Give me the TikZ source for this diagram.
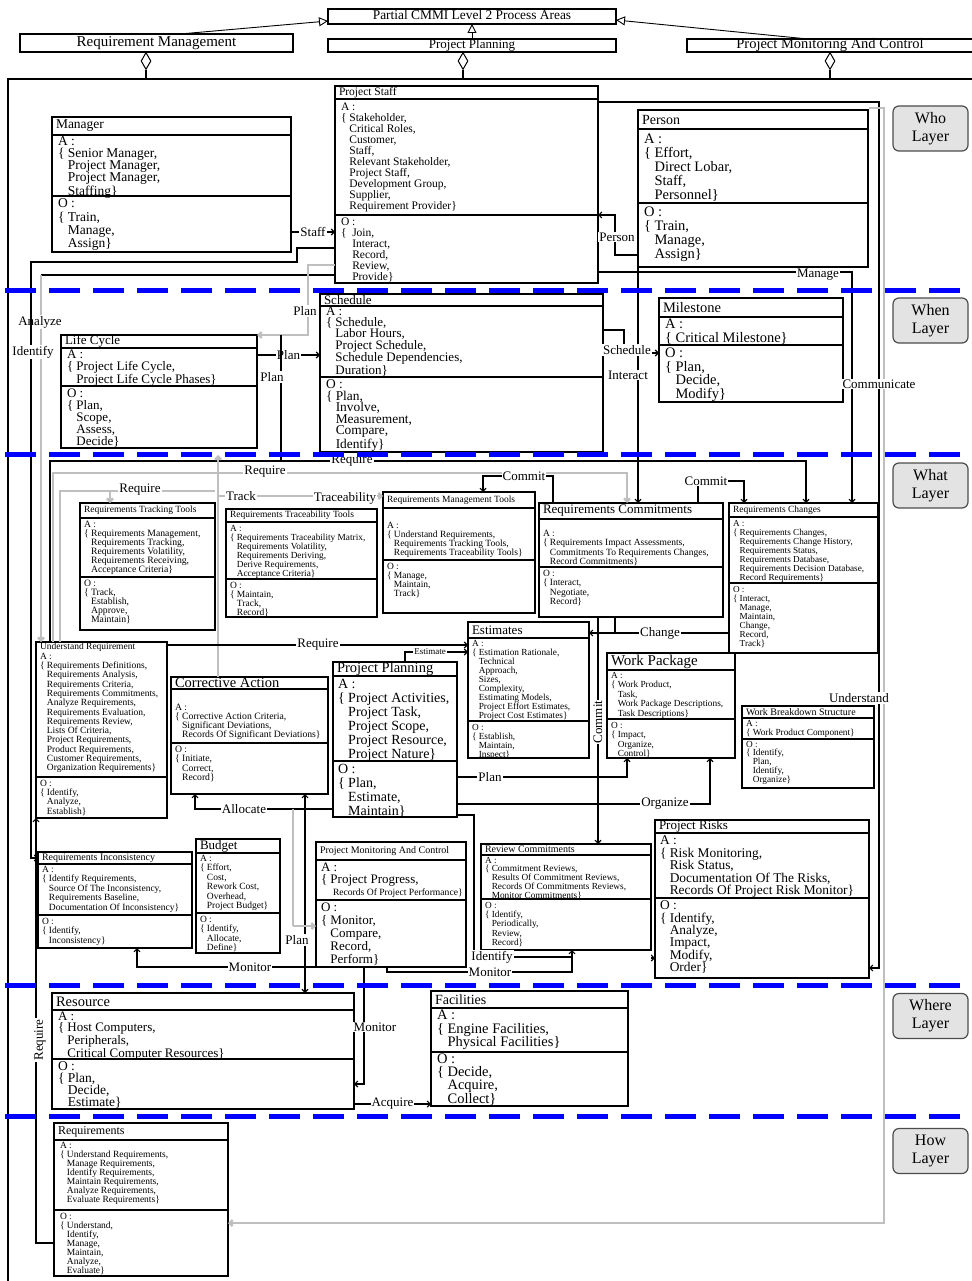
\documentclass[tikz,border=0pt]{standalone}
\usepackage{fontspec}
\setmainfont{Liberation Serif}
\usetikzlibrary{arrows.meta,shapes.geometric}
\newcommand\fs[2]{\fontsize{#1}{#2}\selectfont}
\newcommand\ind{\hphantom{\{\ }}
% class box: name, x1, y1, x2, y2, separator ys, title centre y, title size, title
\newcommand\cls[9]{%
  \node[clsbox, minimum width={#4-#2}, minimum height={#5-#3}] (#1) at (#2,#3) {};
  \foreach \sy in {#6} {\draw[sepline] (#2,\sy) -- (#4,\sy);}
  \node[ttl, font=\fs{#8}{#8}] (#1-n) at ({#2+4},#7) {#9};
}
% compartment text: name, x, y, size, skip, text
\newcommand\ctx[6]{\node[txt, font=\fs{#4}{#5}] (#1) at (#2,#3) {#6};}
\begin{document}
\begin{tikzpicture}[x=1pt,y=-1pt,
  clsbox/.style={draw, line width=1.2pt, inner sep=0pt, outer sep=0pt, anchor=north west},
  sepline/.style={line width=1.2pt},
  ttl/.style={anchor=west, inner sep=0pt, outer sep=0pt},
  txt/.style={anchor=north west, inner sep=0pt, outer sep=0pt, align=left},
  hdr/.style={draw, line width=1.2pt, inner sep=0pt, outer sep=0pt, text height=8.5pt, text depth=2pt},
  agg/.style={diamond, draw, fill=white, line width=1pt, inner sep=0pt, minimum width=10pt, minimum height=17pt, anchor=north},
  gen/.style={line width=0.9pt, -{Triangle[open, length=9pt, width=9pt]}},
  ln/.style={line width=1.1pt, -{Straight Barb[length=3pt,width=6pt]}},
  pl/.style={line width=1.1pt},
  gln/.style={line width=2.4pt, gray!50, -{Straight Barb[length=3pt,width=6pt]}},
  gpl/.style={line width=2.4pt, gray!50},
  lab/.style={fill=white, inner sep=1pt, font=\fs{13}{13}},
  layer/.style={draw=black!70, fill=gray!22, line width=1.2pt, rounded corners=6pt, minimum width=75pt, minimum height=45pt, align=center, font=\fs{16}{18}, inner sep=0pt},
  layerline/.style={blue, line width=5pt, dash pattern=on 31pt off 13pt}
]
\fill[white] (0,0) rectangle (971,1281);
\useasboundingbox (0,0) rectangle (971,1281);

% ---------- process area headers ----------
\node[hdr, minimum width=288pt, minimum height=15pt, font=\fs{13.4}{13}] (partial) at (472,16.5) {Partial CMMI Level 2 Process Areas};
\node[hdr, minimum width=273pt, minimum height=18pt, font=\fs{15}{15}, text height=10pt] (rmh) at (156.5,43) {Requirement Management};
\node[hdr, minimum width=288pt, minimum height=13pt, font=\fs{13}{13}] (pph) at (472,45.5) {Project Planning};
\node[hdr, minimum width=286pt, minimum height=13pt, font=\fs{14.5}{14.5}, text height=9pt] (pmch) at (830,45.5) {Project Monitoring And Control};
\draw[gen] (180,34) -- (partial.west |- 0,21);
\draw[gen] (pph.north) -- (partial.south);
\draw[gen] (808,39) -- (partial.east |- 0,20);
\node[agg] (d1) at (146,52) {};
\node[agg] (d2) at (463,52) {};
\node[agg] (d3) at (830,52) {};
\draw[pl] (d1.south) -- (146,79);
\draw[pl] (d2.south) -- (463,79);
\draw[pl] (d3.south) -- (830,79);
\draw[pl] (8,1281) -- (8,79) -- (975,79);

% ---------- who ----------
\cls{mgr}{52}{117}{291}{252}{135,196}{126}{13.5}{Manager}
\ctx{mgr-a}{58}{137}{13.5}{12}{A :\\\{ Senior Manager,\\\ind Project Manager,\\\ind Project Manager,\\\ind Staffing\}}
\ctx{mgr-o}{58}{199}{13.5}{13.3}{O :\\\{ Train,\\\ind Manage,\\\ind Assign\}}

\cls{ps}{335}{86}{598}{283}{99,215}{92.5}{11.5}{Project Staff}
\ctx{ps-a}{341}{103}{11.5}{11}{A :\\\{ Stakeholder,\\\ind Critical Roles,\\\ind Customer,\\\ind Staff,\\\ind Relevant Stakeholder,\\\ind Project Staff,\\\ind Development Group,\\\ind Supplier,\\\ind Requirement Provider\}}
\ctx{ps-o}{341}{218}{11.5}{11}{O :\\\{\ \ Join,\\\ind\ Interact,\\\ind\ Record,\\\ind\ Review,\\\ind\ Provide\}}

\cls{person}{638}{110}{868}{267}{129,203}{120}{14}{Person}
\ctx{person-a}{644}{134}{14.5}{14}{A :\\\{ Effort,\\\ind Direct Lobar,\\\ind Staff,\\\ind Personnel\}}
\ctx{person-o}{644}{207}{14.5}{14}{O :\\\{ Train,\\\ind Manage,\\\ind Assign\}}

% ---------- when ----------
\cls{lc}{61}{335}{257}{448}{348,386}{341.5}{13}{Life Cycle}
\ctx{lc-a}{67}{350}{13}{12.3}{A :\\\{ Project Life Cycle,\\\ind Project Life Cycle Phases\}}
\ctx{lc-o}{67}{389}{13}{12}{O :\\\{ Plan,\\\ind Scope,\\\ind Assess,\\\ind Decide\}}

\cls{sch}{320}{294}{603}{452}{306,377}{300}{13}{Schedule}
\ctx{sch-a}{326}{307}{13}{11.2}{A :\\\{ Schedule,\\\ind Labor Hours,\\\ind Project Schedule,\\\ind Schedule Dependencies,\\\ind Duration\}}
\ctx{sch-o}{326}{380}{13.4}{11.5}{O :\\\{ Plan,\\\ind Involve,\\\ind Measurement,\\\ind Compare,\\\ind Identify\}}

\cls{ms}{659}{298}{843}{402}{317,345}{307.5}{14.5}{Milestone}
\ctx{ms-a}{665}{319}{14.5}{13.5}{A :\\\{ Critical Milestone\}}
\ctx{ms-o}{665}{348}{14.5}{13.5}{O :\\\{ Plan,\\\ind Decide,\\\ind Modify\}}

% ---------- what ----------
\cls{rtt}{80}{503}{215}{630}{518,577}{510.5}{9.5}{Requirements Tracking Tools}
\ctx{rtt-a}{84}{521}{9.7}{9}{A :\\\{ Requirements Management,\\\ind Requirements Tracking,\\\ind Requirements Volatility,\\\ind Requirements Receiving,\\\ind Acceptance Criteria\}}
\ctx{rtt-o}{84}{580}{9.7}{9}{O :\\\{ Track,\\\ind Establish,\\\ind Approve,\\\ind Maintain\}}

\cls{rtrt}{226}{509}{377}{617}{522,579}{515.5}{9.5}{Requirements Traceability Tools}
\ctx{rtrt-a}{230}{525}{9.3}{9}{A :\\\{ Requirements Traceability Matrix,\\\ind Requirements Volatility,\\\ind Requirements Deriving,\\\ind Derive Requirements,\\\ind Acceptance Criteria\}}
\ctx{rtrt-o}{230}{582}{9.5}{9}{O :\\\{ Maintain,\\\ind Track,\\\ind Record\}}

\cls{rmt}{383}{492}{535}{613}{508,560}{500}{9.5}{Requirements Management Tools}
\ctx{rmt-a}{387}{522}{9.5}{9}{A :\\\{ Understand Requirements,\\\ind Requirements Tracking Tools,\\\ind Requirements Traceability Tools\}}
\ctx{rmt-o}{387}{563}{9.5}{9}{O :\\\{ Manage,\\\ind Maintain,\\\ind Track\}}

\cls{rc}{539}{503}{723}{617}{519,567}{511}{13}{Requirements Commitments}
\ctx{rc-a}{543}{530}{9.5}{9.5}{A :\\\{ Requirements Impact Assessments,\\\ind Commitments To Requirements Changes,\\\ind Record Commitments\}}
\ctx{rc-o}{543}{570}{9.5}{9.5}{O :\\\{ Interact,\\\ind Negotiate,\\\ind Record\}}

\cls{rchg}{729}{503}{878}{653}{517,583}{510}{9.5}{Requirements Changes}
\ctx{rchg-a}{733}{520}{9.2}{9}{A :\\\{ Requirements Changes,\\\ind Requirements Change History,\\\ind Requirements Status,\\\ind Requirements Database,\\\ind Requirements Decision Database,\\\ind Record Requirements\}}
\ctx{rchg-o}{733}{586}{9.2}{9}{O :\\\{ Interact,\\\ind Manage,\\\ind Maintain,\\\ind Change,\\\ind Record,\\\ind Track\}}

\cls{ur}{36}{642}{167}{818}{777}{647}{9.5}{Understand Requirement}
\ctx{ur-a}{40}{653}{9.5}{9.3}{A :\\\{ Requirements Definitions,\\\ind Requirements Analysis,\\\ind Requirements Criteria,\\\ind Requirements Commitments,\\\ind Analyze Requirements,\\\ind Requirements Evaluation,\\\ind Requirements Review,\\\ind Lists Of Criteria,\\\ind Project Requirements,\\\ind Product Requirements,\\\ind Customer Requirements,\\\ind Organization Requirements\}}
\ctx{ur-o}{40}{780}{9.5}{9.3}{O :\\\{ Identify,\\\ind Analyze,\\\ind Establish\}}

\cls{ca}{171}{677}{328}{794}{689,743}{683}{14.5}{Corrective Action}
\ctx{ca-a}{175}{704}{9.7}{9}{A :\\\{ Corrective Action Criteria,\\\ind Significant Deviations,\\\ind Records Of Significant Deviations\}}
\ctx{ca-o}{175}{746}{9.7}{9.3}{O :\\\{ Initiate,\\\ind Correct,\\\ind Record\}}

\cls{pp}{333}{662}{457}{817}{676,761}{669}{14.5}{Project Planning}
\ctx{pp-a}{338}{679}{14}{14}{A :\\\{ Project Activities,\\\ind Project Task,\\\ind Project Scope,\\\ind Project Resource,\\\ind Project Nature\}}
\ctx{pp-o}{338}{764}{14}{14}{O :\\\{ Plan,\\\ind Estimate,\\\ind Maintain\}}

\cls{est}{468}{622}{589}{758}{638,721}{630}{13}{Estimates}
\ctx{est-a}{472}{640}{9.3}{9}{A :\\\{ Estimation Rationale,\\\ind Technical\\\ind Approach,\\\ind Sizes,\\\ind Complexity,\\\ind Estimating Models,\\\ind Project Effort Estimates,\\\ind Project Cost Estimates\}}
\ctx{est-o}{472}{724}{9.3}{9}{O :\\\{ Establish,\\\ind Maintain,\\\ind Inspect\}}

\cls{wp}{607}{653}{735}{758}{670,719}{661.5}{15}{Work Package}
\ctx{wp-a}{611}{672}{9.3}{9.5}{A :\\\{ Work Product,\\\ind Task,\\\ind Work Package Descriptions,\\\ind Task Descriptions\}}
\ctx{wp-o}{611}{722}{9.3}{9.5}{O :\\\{ Impact,\\\ind Organize,\\\ind Control\}}

\cls{wbs}{742}{706}{874}{788}{718,739}{712}{10}{Work Breakdown Structure}
\ctx{wbs-a}{746}{720}{9.3}{9.5}{A :\\\{ Work Product Component\}}
\ctx{wbs-o}{746}{741}{9.3}{8.8}{O :\\\{ Identify,\\\ind Plan,\\\ind Identify,\\\ind Organize\}}

\cls{rinc}{38}{852}{192}{948}{864,915}{858}{10}{Requirements Inconsistency}
\ctx{rinc-a}{42}{866}{9.5}{9.5}{A :\\\{ Identify Requirements,\\\ind Source Of The Inconsistency,\\\ind Requirements Baseline,\\\ind Documentation Of Inconsistency\}}
\ctx{rinc-o}{42}{918}{9.5}{9.5}{O :\\\{ Identify,\\\ind Inconsistency\}}

\cls{bud}{196}{839}{280}{953}{853,913}{846}{13}{Budget}
\ctx{bud-a}{200}{855}{9.5}{9.5}{A :\\\{ Effort,\\\ind Cost,\\\ind Rework Cost,\\\ind Overhead,\\\ind Project Budget\}}
\ctx{bud-o}{200}{916}{9.5}{9.5}{O :\\\{ Identify,\\\ind Allocate,\\\ind Define\}}

\cls{pmc}{316}{842}{466}{967}{860,900}{851}{10}{Project Monitoring And Control}
\ctx{pmc-a}{321}{863}{13}{11.5}{A :\\\{ Project Progress,}
\ctx{pmc-a2}{333}{889}{9.6}{9.6}{Records Of Project Performance\}}
\ctx{pmc-o}{321}{903}{13}{13}{O :\\\{ Monitor,\\\ind Compare,\\\ind Record,\\\ind Perform\}}

\cls{revc}{481}{844}{651}{950}{855,899}{849.5}{10}{Review Commitments}
\ctx{revc-a}{485}{857}{9.3}{8.8}{A :\\\{ Commitment Reviews,\\\ind Results Of Commitment Reviews,\\\ind Records Of Commitments Reviews,\\\ind Monitor Commitments\}}
\ctx{revc-o}{485}{902}{9.3}{9.3}{O :\\\{ Identify,\\\ind Periodically,\\\ind Review,\\\ind Record\}}

\cls{prisk}{655}{820}{869}{978}{833,898}{826.5}{13}{Project Risks}
\ctx{prisk-a}{660}{836}{13.4}{12.4}{A :\\\{ Risk Monitoring,\\\ind Risk Status,\\\ind Documentation Of The Risks,\\\ind Records Of Project Risk Monitor\}}
\ctx{prisk-o}{660}{901}{13.4}{12.3}{O :\\\{ Identify,\\\ind Analyze,\\\ind Impact,\\\ind Modify,\\\ind Order\}}

% ---------- where ----------
\cls{res}{52}{993}{354}{1109}{1010,1059}{1001.5}{14.5}{Resource}
\ctx{res-a}{58}{1012}{13}{11.3}{A :\\\{ Host Computers,\\\ind Peripherals,\\\ind Critical Computer Resources\}}
\ctx{res-o}{58}{1062}{13.5}{11.8}{O :\\\{ Plan,\\\ind Decide,\\\ind Estimate\}}

\cls{fac}{431}{991}{628}{1106}{1008,1052}{999.5}{14}{Facilities}
\ctx{fac-a}{437}{1010}{14.5}{13.7}{A :\\\{ Engine Facilities,\\\ind Physical Facilities\}}
\ctx{fac-o}{437}{1054}{14.5}{13}{O :\\\{ Decide,\\\ind Acquire,\\\ind Collect\}}

% ---------- how ----------
\cls{req}{54}{1123}{228}{1276}{1140,1210}{1131.5}{12}{Requirements}
\ctx{req-a}{60}{1142}{9.5}{9}{A :\\\{ Understand Requirements,\\\ind Manage Requirements,\\\ind Identify Requirements,\\\ind Maintain Requirements,\\\ind Analyze Requirements,\\\ind Evaluate Requirements\}}
\ctx{req-o}{60}{1213}{9.5}{9}{O :\\\{ Understand,\\\ind Identify,\\\ind Manage,\\\ind Maintain,\\\ind Analyze,\\\ind Evaluate\}}

% ---------- connectors: who / when ----------
\draw[ln] (mgr.east |- 0,232) -- node[lab]{Staff} (ps.west |- 0,232);
\draw[ln] (person.west |- 0,255) -- (615,255) -- (615,215) -- (ps.east |- 0,215);
\node[lab] at (617,237) {Person};
\draw[ln] (ps.east |- 0,272) -- (852,272) -- (rchg.north -| 852,0);
\node[lab] at (818,275) {Manage};
\draw[ln] (ps.east |- 0,102) -- (879,102) -- (879,968) -- (prisk.east |- 0,968);
\draw[gln] (869,108) -- (884,108) -- (884,1223) -- (req.east |- 0,1223);
\node[lab] at (879,384) {Communicate};
\node[lab] at (859,698) {Understand};
\draw[ln] (person.south west) -- (rc.north -| 638,0);
\node[lab] at (628,375) {Interact};
\draw[ln] (sch.east |- 0,330) -- (624,330) -- (624,353) -- (ms.west |- 0,353);
\node[lab] at (627,350) {Schedule};

\draw[pl] (ps.west |- 0,275) -- (41,275);
\draw[gln] (41,275) -- (ur.north -| 41,0);
\node[lab] at (40,322) {Analyze};
\draw[ln] (ps.west |- 0,248) -- (297,248) -- (297,262) -- (31,262) -- (31,858) -- (rinc.west |- 0,858);
\node[lab] at (33,352) {Identify};
\draw[gln] (ps.west |- 0,265) -- (308,265) -- (308,335) -- (lc.north east);
\node[lab] at (305,311) {Plan};
\draw[ln] (lc.east |- 0,355) -- node[lab]{Plan} (sch.west |- 0,355);
\draw[pl] (281,335) -- (281,461);
\node[lab] at (272,377) {Plan};

% ---------- connectors: what ----------
\draw[ln] (ur.north -| 50,0) -- (50,461) -- (806,461) -- (rchg.north -| 806,0);
\node[lab] at (352,461) {Require};
\draw[gln] (ur.north -| 53,0) -- (53,473) -- (627,473) -- (rc.north -| 627,0);
\node[lab] at (265,472) {Require};
\draw[gpl] (ur.north -| 60,0) -- (60,491) -- (215,491);
\draw[gln] (110,491) -- (rtt.north -| 110,0);
\node[lab] at (140,490) {Require};
\draw[gln] (218,496) -- (rmt.west |- 0,496);
\node[lab] at (241,496) {Track};
\node[lab] at (345,498) {Traceability};
\draw[gln] (ca.north -| 218,0) -- (218,455);
\draw[ln] (rc.north -| 553,0) -- (553,476) -- (483,476) -- (rmt.north -| 483,0);
\node[lab] at (524,476) {Commit};
\draw[ln] (rc.north -| 698,0) -- (698,481) -- (744,481) -- (rchg.north -| 744,0);
\node[lab] at (706,481) {Commit};
\draw[ln] (ur.east |- 0,645) -- (est.west |- 0,645);
\node[lab] at (318,645) {Require};
\draw[ln] (pp.north -| 405,0) -- (405,652) -- (est.west |- 0,652);
\node[lab, font=\fs{9}{9}] at (430,652) {Estimate};
\draw[ln] (rchg.west |- 0,633) -- (est.east |- 0,633);
\draw[pl] (rc.south -| 615,0) -- (615,633);
\node[lab] at (660,633) {Change};
\draw[ln] (rc.south -| 598,0) -- (revc.north -| 598,0);
\node[lab, rotate=90] at (598,722) {Commit};
\draw[ln] (pp.east |- 0,777) -- (627,777) -- (wp.south -| 627,0);
\node[lab] at (490,777) {Plan};
\draw[ln] (pp.east |- 0,804) -- (710,804) -- (wp.south -| 710,0);
\node[lab] at (665,804) {Organize};
\draw[ln] (pp.west |- 0,809) -- (195,809) -- (ca.south -| 195,0);
\node[lab] at (244,809) {Allocate};
\draw[line width=1.1pt, {Straight Barb[length=3pt,width=6pt]}-{Straight Barb[length=3pt,width=6pt]}] (ca.south -| 305,0) -- (res.north -| 305,0);
\node[lab] at (297,940) {Plan};
\draw[gpl] (293,809) -- (293,926);
\draw[gln] (293,926) -- (pmc.west |- 0,926);
\draw[ln] (pmc.south west) -- (137,967) -- (rinc.south -| 137,0);
\node[lab] at (250,967) {Monitor};
\draw[ln] (pp.east |- 0,815) -- (474,815) -- (474,957) -- (572,957) -- (revc.south -| 572,0);
\node[lab] at (492,957) {Identify};
\draw[pl] (pmc.south -| 387,0) -- (387,972) -- (572,972) -- (572,957);
\node[lab] at (490,972) {Monitor};
\draw[ln] (revc.east |- 0,958) -- (prisk.west |- 0,958);

% ---------- connectors: where / how ----------
\draw[ln] (pmc.south -| 364,0) -- (364,1084) -- (res.east |- 0,1084);
\node[lab] at (375,1027) {Monitor};
\draw[ln] (res.east |- 0,1104) -- node[lab]{Acquire} (fac.west |- 0,1104);
\draw[ln] (req.west |- 0,1243) -- (36,1243) -- (ur.south west);
\node[lab, rotate=90] at (40,1040) {Require};

% ---------- layer tags ----------
\node[layer] (wholbl) at (930.5,128.5) {Who\\Layer};
\node[layer] (whenlbl) at (930.5,320.5) {When\\Layer};
\node[layer] (whatlbl) at (930.5,485.5) {What\\Layer};
\node[layer] (wherelbl) at (930.5,1016) {Where\\Layer};
\node[layer] (howlbl) at (930.5,1151) {How\\Layer};

% ---------- layer boundaries ----------
\foreach \ly in {290,454,985,1116} {\draw[layerline] (5,\ly) -- (975,\ly);}
\end{tikzpicture}
\end{document}
